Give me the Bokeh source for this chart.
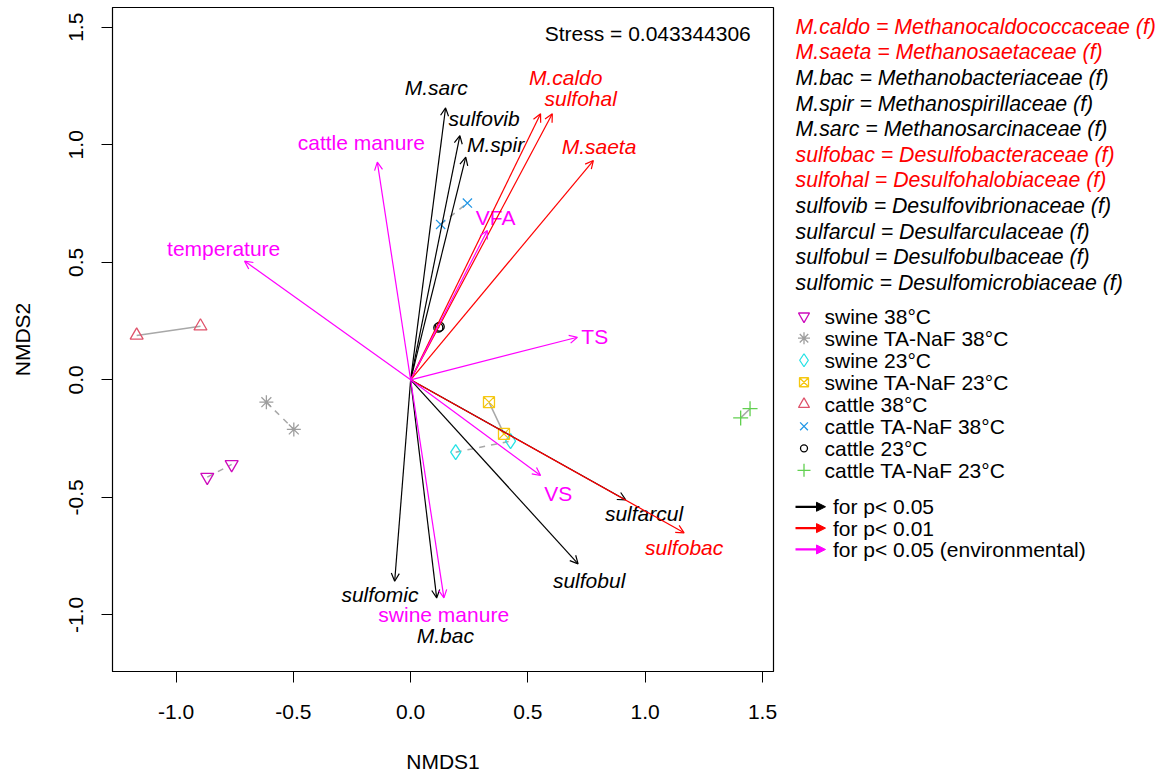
from bokeh.plotting import figure
from bokeh.models import (Range1d, FixedTicker, NumeralTickFormatter, Arrow, OpenHead,
                          NormalHead, ColumnDataSource, Label)
from bokeh.layouts import row
from bokeh.embed import file_html
from bokeh.resources import INLINE
from bokeh.core.properties import value

FONT = "Liberation Sans"

# ---------------- data ----------------
# species / environmental vectors (arrow tips)
vec_names = ["M.sarc", "sulfovib", "M.spir", "sulfomic", "M.bac", "sulfarcul", "sulfobul",
             "M.caldo", "sulfohal", "M.saeta", "sulfobac",
             "cattle manure", "temperature", "VFA", "TS", "VS", "swine manure"]
vec_x = [0.149, 0.210, 0.235, -0.068, 0.111, 0.917, 0.714,
         0.554, 0.604, 0.779, 1.166,
         -0.142, -0.708, 0.327, 0.711, 0.554, 0.142]
vec_y = [1.157, 1.039, 0.947, -0.857, -0.928, -0.511, -0.783,
         1.132, 1.132, 0.933, -0.651,
         0.926, 0.505, 0.635, 0.181, -0.407, -0.928]
vec_class = ["p05", "p05", "p05", "p05", "p05", "p05", "p05",
             "p01", "p01", "p01", "p01",
             "env", "env", "env", "env", "env", "env"]
# label anchor positions (data units)
lab_x = [0.109, 0.313, 0.362, -0.131, 0.148, 0.995, 0.761,
         0.661, 0.725, 0.803, 1.166,
         -0.210, -0.797, 0.362, 0.785, 0.629, 0.141]
lab_y = [1.243, 1.111, 1.001, -0.915, -1.088, -0.570, -0.854,
         1.285, 1.198, 0.994, -0.712,
         1.011, 0.557, 0.689, 0.184, -0.483, -1.000]

# sample scores per group
groups = ["swine 38°C", "swine TA-NaF 38°C", "swine 23°C", "swine TA-NaF 23°C",
          "cattle 38°C", "cattle TA-NaF 38°C", "cattle 23°C", "cattle TA-NaF 23°C"]
grp_x = [[-0.867, -0.763], [-0.615, -0.498], [0.192, 0.426], [0.334, 0.398],
         [-1.168, -0.896], [0.128, 0.242], [0.118, 0.124], [1.407, 1.447]]
grp_y = [[-0.414, -0.360], [-0.095, -0.211], [-0.308, -0.261], [-0.095, -0.230],
         [0.189, 0.228], [0.661, 0.752], [0.222, 0.226], [-0.162, -0.123]]
grp_color = ["#CD0BBC", "#9E9E9E", "#28E2E5", "#F5C710",
             "#DF536B", "#2297E6", "#000000", "#61D04F"]
grp_marker = ["inverted_triangle", "asterisk", "diamond", "square_x",
              "triangle", "x", "circle", "cross"]
grp_size = [13, 14, 15, 11, 13, 13, 9, 15]
grp_dash = ["dashed", "dashed", "dashed", "solid", "solid", "dashed", "solid", "solid"]

species_key = ["M.caldo = Methanocaldococcaceae (f)", "M.saeta = Methanosaetaceae (f)",
               "M.bac = Methanobacteriaceae (f)", "M.spir = Methanospirillaceae (f)",
               "M.sarc = Methanosarcinaceae (f)", "sulfobac = Desulfobacteraceae (f)",
               "sulfohal = Desulfohalobiaceae (f)", "sulfovib = Desulfovibrionaceae (f)",
               "sulfarcul = Desulfarculaceae (f)", "sulfobul = Desulfobulbaceae (f)",
               "sulfomic = Desulfomicrobiaceae (f)"]
species_key_color = ["#FF0000", "#FF0000", "#000000", "#000000", "#000000", "#FF0000",
                     "#FF0000", "#000000", "#000000", "#000000", "#000000"]

sig_labels = ["for p< 0.05", "for p< 0.01", "for p< 0.05 (environmental)"]
sig_colors = ["#000000", "#FF0000", "#FF00FF"]
class_color = {"p05": "#000000", "p01": "#FF0000", "env": "#FF00FF"}

stress_text = "Stress =  0.043344306"

# ---------------- main plot ----------------
MAIN_W, H = 783, 778
p = figure(width=MAIN_W, height=H, x_range=Range1d(-1.271, 1.547),
           y_range=Range1d(-1.241, 1.584), output_backend="svg", toolbar_location=None,
           min_border_left=112, min_border_right=10, min_border_top=7, min_border_bottom=107,
           background_fill_color="white", border_fill_color="white")
p.grid.visible = False
p.outline_line_color = "black"
p.outline_line_width = 1.2

p.xaxis.ticker = FixedTicker(ticks=[-1.0, -0.5, 0.0, 0.5, 1.0, 1.5])
p.yaxis.ticker = FixedTicker(ticks=[-1.0, -0.5, 0.0, 0.5, 1.0, 1.5])
for ax in (p.xaxis[0], p.yaxis[0]):
    ax.formatter = NumeralTickFormatter(format="0.0")
    ax.major_tick_out = 11
    ax.major_tick_in = 0
    ax.minor_tick_line_color = None
    ax.axis_line_color = "black"
    ax.major_tick_line_color = "black"
    ax.major_label_text_font = FONT
    ax.major_label_text_font_size = "21px"
    ax.major_label_text_color = "black"
    ax.axis_label_text_font = FONT
    ax.axis_label_text_font_size = "21px"
    ax.axis_label_text_font_style = "normal"
    ax.axis_label_text_color = "black"
p.xaxis.axis_label = "NMDS1"
p.yaxis.axis_label = "NMDS2"
p.xaxis.major_label_standoff = 22
p.xaxis.axis_label_standoff = 28
p.yaxis.major_label_orientation = "vertical"
p.yaxis.major_label_standoff = 18
p.yaxis.axis_label_standoff = 33

# pair connector lines and sample points
for gx, gy, dash in zip(grp_x, grp_y, grp_dash):
    p.line(gx, gy, line_color="#A8A8A8", line_width=1.5, line_dash=dash)
for gx, gy, col, mk, sz in zip(grp_x, grp_y, grp_color, grp_marker, grp_size):
    p.scatter(gx, gy, marker=mk, size=sz, line_color=col, fill_color=None, line_width=1.3)

# arrows
for cls, col in class_color.items():
    idx = [i for i, c in enumerate(vec_class) if c == cls]
    src = ColumnDataSource(dict(x0=[0.0] * len(idx), y0=[0.0] * len(idx),
                                x1=[vec_x[i] for i in idx], y1=[vec_y[i] for i in idx]))
    p.add_layout(Arrow(end=OpenHead(size=8, line_color=col, line_width=1.2),
                       x_start="x0", y_start="y0", x_end="x1", y_end="y1",
                       line_color=col, line_width=1.2, source=src))
    style = "normal" if cls == "env" else "italic"
    p.text([lab_x[i] for i in idx], [lab_y[i] for i in idx], text=[vec_names[i] for i in idx],
           text_font=value(FONT), text_font_size="21px", text_font_style=style,
           text_color=col, text_align="center", text_baseline="middle")

p.add_layout(Label(x=1.475, y=1.472, text=stress_text, text_align="right",
                   text_baseline="middle", text_font=FONT, text_font_size="21px",
                   text_color="black"))

# ---------------- legend panel ----------------
LW = 383
lg = figure(width=LW, height=H, x_range=Range1d(0, LW), y_range=Range1d(H, 0),
            output_backend="svg", toolbar_location=None, x_axis_type=None, y_axis_type=None,
            min_border=0, outline_line_color=None)
lg.grid.visible = False

n_sp = len(species_key)
lg.text([12] * n_sp, [22.7 + 30 * i for i in range(n_sp)], text=species_key,
        text_color=species_key_color, text_font=value(FONT), text_font_size="21.3px",
        text_font_style="italic", text_baseline="middle", text_align="left")

n_g = len(groups)
gy_leg = [361.7 + 25.8 * i for i in range(n_g)]
for i in range(n_g):
    lg.scatter([20.5], [gy_leg[i]], marker=grp_marker[i], size=grp_size[i] - 2,
               line_color=grp_color[i], fill_color=None, line_width=1.3)
lg.text([41] * n_g, gy_leg, text=groups, text_color="black", text_font=value(FONT),
        text_font_size="21px", text_baseline="middle", text_align="left")

sy = [585 + 25 * i for i in range(len(sig_labels))]
for i, col in enumerate(sig_colors):
    lg.add_layout(Arrow(end=NormalHead(size=9, fill_color=col, line_color=col, line_width=1),
                        x_start=12, y_start=sy[i], x_end=42, y_end=sy[i],
                        line_color=col, line_width=2.2))
lg.text([49.5] * len(sig_labels), sy, text=sig_labels, text_color="black",
        text_font=value(FONT), text_font_size="21px", text_baseline="middle", text_align="left")

layout = row(p, lg)
open("out.html", "w").write(file_html(layout, INLINE))
